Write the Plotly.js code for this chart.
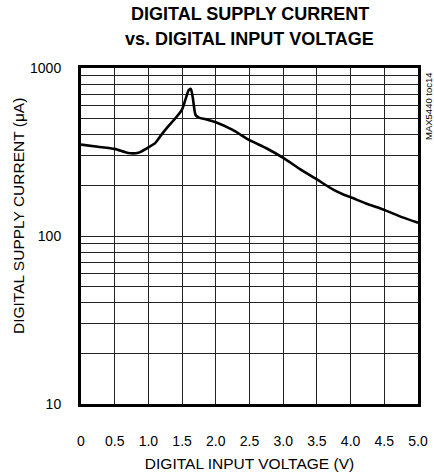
<!DOCTYPE html>
<html>
<head>
<meta charset="utf-8">
<script src="https://cdn.plot.ly/plotly-3.0.1.min.js"></script>
<style>html,body{margin:0;padding:0;background:#fff;}#chart{width:434px;height:472px;}</style>
</head>
<body>
<div id="chart"></div>
<script>
// Data
const voltage = [0, 0.25, 0.5, 0.7, 0.85, 1.0, 1.1, 1.2, 1.3, 1.4, 1.5, 1.55, 1.6, 1.63, 1.66, 1.7, 1.75, 1.85, 2.0, 2.25, 2.5, 2.75, 3.0, 3.25, 3.5, 3.75, 3.9, 4.0, 4.25, 4.5, 4.75, 5.0];
const currentUA = [350, 340, 330, 312, 313, 337, 357, 404, 452, 502, 568, 650, 740, 750, 660, 525, 506, 495, 475, 428, 372, 333, 292, 250, 217, 188, 176, 170, 155, 143, 130, 120];

const xTickVals = [0, 0.5, 1.0, 1.5, 2.0, 2.5, 3.0, 3.5, 4.0, 4.5, 5.0];
const xTickText = ["0", "0.5", "1.0", "1.5", "2.0", "2.5", "3.0", "3.5", "4.0", "4.5", "5.0"];
const yTickVals = [10, 20, 30, 40, 50, 60, 70, 80, 90, 100, 200, 300, 400, 500, 600, 700, 800, 900, 1000];
const yTickText = ["10", "", "", "", "", "", "", "", "", "100", "", "", "", "", "", "", "", "", "1000"];

const titleLines = ["DIGITAL SUPPLY CURRENT", "vs. DIGITAL INPUT VOLTAGE"];
const xTitle = "DIGITAL INPUT VOLTAGE (V)";
const yTitle = "DIGITAL SUPPLY CURRENT (μA)";
const tocLabel = "MAX5440 toc14";

const FONT = "Liberation Sans, Arial, sans-serif";

const trace = {
  x: voltage,
  y: currentUA,
  type: "scatter",
  mode: "lines",
  line: {color: "#000", width: 2.6, shape: "spline", smoothing: 0.6},
  hoverinfo: "skip"
};

const titleShifts = [54, 29];
const titleAnnotations = titleLines.map((t, i) => ({
  text: t,
  xref: "paper", yref: "paper",
  x: 0.5, xanchor: "center",
  y: 1, yshift: titleShifts[i], yanchor: "middle",
  showarrow: false,
  font: {size: 18, family: FONT, color: "#000", weight: "bold"}
}));

const layout = {
  width: 434,
  height: 472,
  margin: {l: 81, r: 16, t: 68, b: 68},
  paper_bgcolor: "#fff",
  plot_bgcolor: "#fff",
  showlegend: false,
  font: {family: FONT, color: "#000", size: 14},
  xaxis: {
    range: [0, 5],
    tickmode: "array",
    tickvals: xTickVals,
    ticktext: xTickText,
    ticks: "",
    ticklabelstandoff: 22,
    tickfont: {size: 14, family: FONT},
    showgrid: true,
    gridcolor: "#222",
    gridwidth: 1,
    showline: true,
    linecolor: "#000",
    linewidth: 3,
    mirror: true,
    zeroline: false,
    fixedrange: true,
    title: {text: xTitle, font: {size: 15.5, family: FONT}, standoff: 12}
  },
  yaxis: {
    type: "log",
    range: [1, 3],
    tickmode: "array",
    tickvals: yTickVals,
    ticktext: yTickText,
    ticks: "",
    ticklabelstandoff: 14,
    tickfont: {size: 14, family: FONT},
    showgrid: true,
    gridcolor: "#222",
    gridwidth: 1,
    showline: true,
    linecolor: "#000",
    linewidth: 3,
    mirror: true,
    zeroline: false,
    fixedrange: true
  },
  annotations: titleAnnotations.concat([
    {
      text: yTitle, textangle: -90,
      xref: "paper", yref: "paper",
      x: 0, xshift: -63, xanchor: "center",
      y: 0.5, yshift: 20, yanchor: "middle",
      showarrow: false,
      font: {size: 15.5, family: FONT, color: "#000"}
    },
    {
      text: tocLabel, textangle: -90,
      xref: "paper", yref: "paper",
      x: 1, xshift: 10, xanchor: "center",
      y: 1, yshift: -38, yanchor: "middle",
      showarrow: false,
      font: {size: 9.5, family: FONT, color: "#000"}
    }
  ])
};

Plotly.newPlot("chart", [trace], layout, {displayModeBar: false, staticPlot: true});
</script>
</body>
</html>
